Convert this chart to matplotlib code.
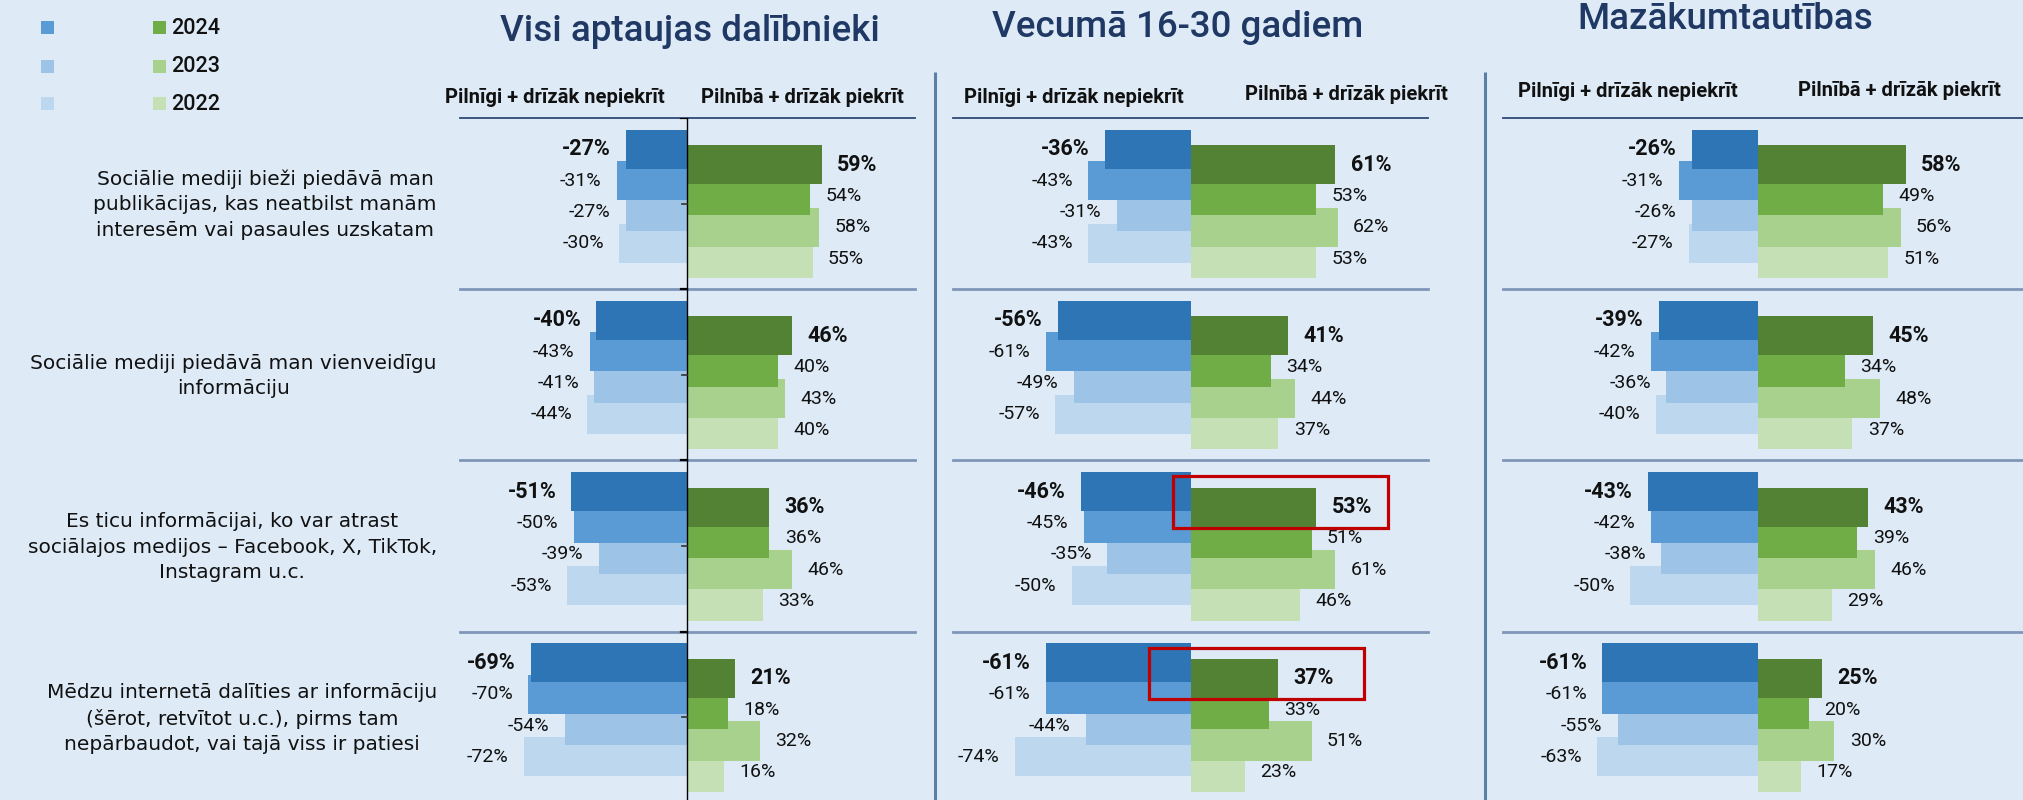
import matplotlib
matplotlib.use("Agg")
import matplotlib.pyplot as plt
from matplotlib.patches import Rectangle
import numpy as np

# ---------------- data ----------------
panel_titles = ["Visi aptaujas dalībnieki", "Vecumā 16-30 gadiem", "Mazākumtautības"]
header_disagree = "Pilnīgi + drīzāk nepiekrīt"
header_agree = "Pilnībā + drīzāk piekrīt"
statements = [
    "Sociālie mediji bieži piedāvā man\npublikācijas, kas neatbilst manām\ninteresēm vai pasaules uzskatam",
    "Sociālie mediji piedāvā man vienveidīgu\ninformāciju",
    "Es ticu informācijai, ko var atrast\nsociālajos medijos – Facebook, X, TikTok,\nInstagram u.c.",
    "Mēdzu internetā dalīties ar informāciju\n(šērot, retvītot u.c.), pirms tam\nnepārbaudot, vai tajā viss ir patiesi",
]
series_years = ["2025", "2024", "2023", "2022"]
legend_years = ["2024", "2023", "2022"]

visi_disagree = [[-27, -31, -27, -30], [-40, -43, -41, -44], [-51, -50, -39, -53], [-69, -70, -54, -72]]
visi_agree = [[59, 54, 58, 55], [46, 40, 43, 40], [36, 36, 46, 33], [21, 18, 32, 16]]
jaunie_disagree = [[-36, -43, -31, -43], [-56, -61, -49, -57], [-46, -45, -35, -50], [-61, -61, -44, -74]]
jaunie_agree = [[61, 53, 62, 53], [41, 34, 44, 37], [53, 51, 61, 46], [37, 33, 51, 23]]
mazak_disagree = [[-26, -31, -26, -27], [-39, -42, -36, -40], [-43, -42, -38, -50], [-61, -61, -55, -63]]
mazak_agree = [[58, 49, 56, 51], [45, 34, 48, 37], [43, 39, 46, 29], [25, 20, 30, 17]]

# highlighted (panel, statement) -> red frame around the newest "agree" value
highlights = [(1, 2), (1, 3)]

# ---------------- style ----------------
W, H = 2024, 800
BG = "#DEEBF7"
blue_colors = ["#2E75B6", "#5B9BD5", "#9DC3E6", "#BDD7EE"]
green_colors = ["#548235", "#70AD47", "#A9D18E", "#C5E0B4"]
NAVY = "#1F3864"
NUM_FONT = ["Roboto", "DejaVu Sans"]
TXT_FONT = ["DejaVu Sans"]

fig = plt.figure(figsize=(W / 100, H / 100), dpi=100)
fig.patch.set_facecolor(BG)

# overlay axes in pixel coordinates for free text
ov = fig.add_axes([0, 0, 1, 1])
ov.set_xlim(0, W)
ov.set_ylim(H, 0)
ov.axis("off")

# legend (three rows, as in the source)
leg_y = [27, 66, 103]
for i, yr in enumerate(legend_years):
    ov.add_patch(Rectangle((41, leg_y[i] - 6.5), 13, 13, color=blue_colors[i + 1], lw=0))
    ov.add_patch(Rectangle((153, leg_y[i] - 6.5), 13, 13, color=green_colors[i + 1], lw=0))
    ov.text(171, leg_y[i] + 1, yr, fontsize=15.5, family=NUM_FONT, va="center", ha="left",
            color="#111111", fontweight="medium")

# panels geometry (pixels)
panel_x = [(460, 915), (953, 1428), (1503, 2013)]
title_pos = [(690, 41), (1178, 37), (1725, 29)]
hdr_pos = [((555, 103), (802, 103)), ((1074, 103), (1346, 100)), ((1628, 97), (1899, 96))]
TOP, BOT = 118, 803
row_px = (BOT - TOP) / len(statements)

# statements, centred on their rows
for i, s in enumerate(statements):
    y = TOP + (i + 0.5) * row_px + 1
    ov.text(437, y, s, fontsize=14.5, family=TXT_FONT, ha="right", va="center",
            multialignment="center", color="#111111", linespacing=1.42)

for (x, y), t in zip(title_pos, panel_titles):
    ov.text(x, y, t, fontsize=26.5, family=NUM_FONT, color=NAVY, ha="center", va="baseline",
            fontweight="medium")
for (p_neg, p_pos) in hdr_pos:
    ov.text(p_neg[0], p_neg[1], header_disagree, fontsize=14.5, family=NUM_FONT,
            fontweight="bold", ha="center", va="baseline", color="#111111")
    ov.text(p_pos[0], p_pos[1], header_agree, fontsize=14.5, family=NUM_FONT,
            fontweight="bold", ha="center", va="baseline", color="#111111")

# vertical separators
for xs in (935, 1485):
    ov.plot([xs, xs], [72, H], color="#5B80A8", lw=2.2, solid_capstyle="butt")

panels = [(visi_disagree, visi_agree), (jaunie_disagree, jaunie_agree), (mazak_disagree, mazak_agree)]

n_rows = len(statements)
n_ser = len(series_years)
step = 0.183
bar_h = 0.228
blue_start = -0.318
green_start = -0.228

for p, ((xl, xr), (dis, agr)) in enumerate(zip(panel_x, panels)):
    ax = fig.add_axes([xl / W, 1 - BOT / H, (xr - xl) / W, (BOT - TOP) / H])
    ax.set_xlim(-100, 100)
    ax.set_ylim(n_rows, 0)
    ax.axis("off")
    ax.patch.set_alpha(0)
    dis = np.array(dis)
    agr = np.array(agr)
    centers = np.arange(n_rows) + 0.5
    for k in range(n_ser):
        yb = centers + blue_start + k * step
        yg = centers + green_start + k * step
        z = 10 - k
        ax.barh(yb, dis[:, k], height=bar_h, color=blue_colors[k], zorder=z, lw=0)
        ax.barh(yg, agr[:, k], height=bar_h, color=green_colors[k], zorder=z, lw=0)
        bold = (k == 0)
        fs = 15.5 if bold else 14
        fw = "bold" if bold else "normal"
        for r in range(n_rows):
            ax.annotate(f"{dis[r, k]}%", (dis[r, k], yb[r]), xytext=(-11, 0),
                        textcoords="offset points", ha="right", va="center",
                        fontsize=fs, fontweight=fw, family=NUM_FONT, color="#111111", zorder=20)
            ax.annotate(f"{agr[r, k]}%", (agr[r, k], yg[r]), xytext=(11, 0),
                        textcoords="offset points", ha="left", va="center",
                        fontsize=fs, fontweight=fw, family=NUM_FONT, color="#111111", zorder=20)
    # row separators
    x_end = 1.03 if p == 2 else 1.0
    for r in range(n_rows + 1):
        if r == 0:
            ax.plot([0, x_end], [r, r], transform=ax.get_yaxis_transform(), color="#2F4A78",
                    lw=1.3, clip_on=False, zorder=2)
        else:
            ax.plot([0, x_end], [r, r], transform=ax.get_yaxis_transform(), color="#7F96B8",
                    lw=2.0, clip_on=False, zorder=2)
    if p == 0:
        ax.plot([0, 0], [0, n_rows], color="black", lw=1.0, zorder=15, clip_on=False)
        for r in range(n_rows):
            ax.plot([-3, 0], [r, r], color="black", lw=1.6, zorder=15)
            ax.plot([-2.2, 0], [r + 0.5, r + 0.5], color="#333333", lw=1.2, zorder=15)
    # red highlight frames
    for (hp, hr) in highlights:
        if hp != p:
            continue
        yc = centers[hr] + green_start
        val = agr[hr, 0]
        x0 = -7.5 if hr == 2 else -17.5
        x1 = val + (30 if hr == 2 else 36)
        ax.add_patch(Rectangle((x0, yc - 0.18), x1 - x0, 0.30, fill=False,
                               edgecolor="#C00000", lw=2.3, zorder=25))

fig.savefig("out.png", dpi=100, facecolor=BG)
